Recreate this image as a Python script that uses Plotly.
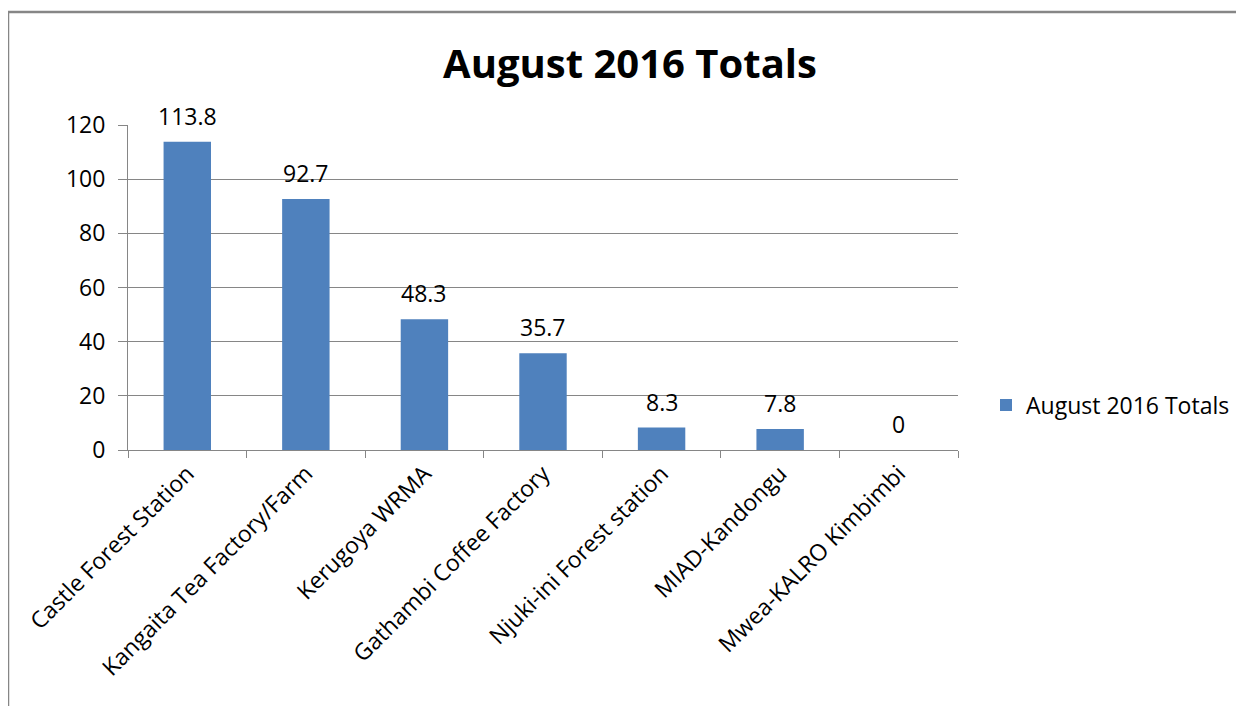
import plotly.graph_objects as go

categories = ["Castle Forest Station", "Kangaita Tea Factory/Farm", "Kerugoya WRMA",
              "Gathambi Coffee Factory", "Njuki-ini Forest station", "MIAD-Kandongu",
              "Mwea-KALRO Kimbimbi"]
values = [113.8, 92.7, 48.3, 35.7, 8.3, 7.8, 0]
value_labels = ["113.8", "92.7", "48.3", "35.7", "8.3", "7.8", "0"]
series_name = "August 2016 Totals"

W, H = 1244, 706
OFF = 8  # page body offset
px_l, px_r, px_t, px_b = 128 - OFF, 958 - OFF, 125 - OFF, 450 - OFF
ml, mt = px_l, px_t
pw, ph = px_r - px_l, px_b - px_t
mr, mb = W - ml - pw, H - mt - ph
FONT = "Open Sans"
FS = 23

fig = go.Figure(go.Bar(
    x=categories, y=values, name=series_name,
    marker=dict(color="#4F81BD", line=dict(width=0)),
    width=0.4,
    cliponaxis=False,
    showlegend=True,
))

# data labels above bars
for cat, val, lab in zip(categories, values, value_labels):
    fig.add_annotation(x=cat, y=val, text=lab, showarrow=False,
                       yanchor="bottom", yshift=8,
                       font=dict(family=FONT, size=FS, color="#000000"))

fig.update_layout(
    width=W, height=H,
    margin=dict(l=ml, r=mr, t=mt, b=mb, autoexpand=False),
    paper_bgcolor="white", plot_bgcolor="white",
    font=dict(family=FONT, size=FS, color="#000000"),
    title=dict(text="<b>August 2016 Totals</b>", x=(630 - OFF) / W, xanchor="center",
               xref="container", y=1 - (64 - OFF) / H, yanchor="middle", yref="container",
               font=dict(family=FONT, size=40, color="#000000")),
    legend=dict(x=(986 - OFF - ml) / pw, xanchor="left", y=(px_b - (405 - OFF)) / ph, yanchor="middle",
                font=dict(family=FONT, size=FS, color="#000000"),
                bgcolor="rgba(0,0,0,0)", itemwidth=30),
    bargap=0.6,
)

fig.update_xaxes(
    showline=True, linecolor="#868686", linewidth=1,
    ticks="outside", ticklen=7, tickcolor="#868686", tickson="boundaries",
    tickangle=-45, showgrid=False,
    tickfont=dict(family=FONT, size=FS, color="#000000"),
)
fig.update_yaxes(
    range=[0, 120], dtick=20, tick0=0,
    showline=True, linecolor="#868686", linewidth=1,
    ticks="outside", ticklen=9, tickcolor="#868686",
    showgrid=True, gridcolor="#868686", gridwidth=1,
    zeroline=False, ticklabelstandoff=8,
    tickfont=dict(family=FONT, size=FS, color="#000000"),
)

# outer chart border (top and left visible, extends past image edge)
fig.add_shape(type="rect", xref="paper", yref="paper",
              x0=(8 - OFF - ml) / pw, x1=(W + 40 - ml) / pw,
              y0=(ph + mt - (H + 40)) / ph, y1=(ph + mt - (12 - OFF)) / ph,
              line=dict(color="#868686", width=2.5), fillcolor="rgba(0,0,0,0)", layer="below")

fig.write_html("out.html")
